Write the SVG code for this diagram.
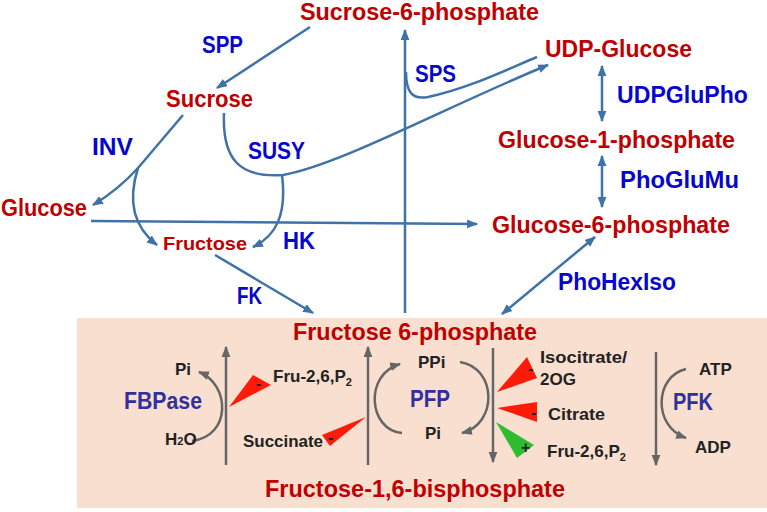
<svg xmlns="http://www.w3.org/2000/svg" width="767" height="512" viewBox="0 0 767 512">
<defs>
<style>
.r{font-family:"Liberation Sans",Arial,sans-serif;font-weight:bold;font-size:23.5px;fill:#c00000}
.b{font-family:"Liberation Sans",Arial,sans-serif;font-weight:bold;font-size:23.5px;fill:#0606cc}
.e{font-family:"Liberation Sans",Arial,sans-serif;font-weight:bold;font-size:23.5px;fill:#30309e}
.k{font-family:"Liberation Sans",Arial,sans-serif;font-weight:bold;font-size:17px;fill:#222}
.s{font-family:"Liberation Sans",Arial,sans-serif;font-weight:bold;font-size:16px;fill:#222}
.c{fill:none;stroke:#3f72a6;stroke-width:2.5}
.g{fill:none;stroke:#666;stroke-width:2.5}
.inh{fill:#ff1a0a}
.act{fill:#2ebd2e}
</style>
<marker id="ab" viewBox="0 0 10 10" refX="9" refY="5" markerWidth="11" markerHeight="11" markerUnits="userSpaceOnUse" orient="auto-start-reverse"><path d="M0,1 L10,5 L0,9 z" fill="#3f72a6"/></marker>
<marker id="ag" viewBox="0 0 10 10" refX="9" refY="5" markerWidth="11" markerHeight="11" markerUnits="userSpaceOnUse" orient="auto-start-reverse"><path d="M0,1 L10,5 L0,9 z" fill="#666"/></marker>
</defs>
<rect x="0" y="0" width="767" height="512" fill="#fff"/>
<rect id="box" x="77" y="318" width="690" height="190" fill="#f9dfcf"/>

<g id="connectors">
<path class="c" d="M310,27 L217,88" marker-end="url(#ab)"/>
<path class="c" d="M183,115 L138,168 Q118,190 93,205" marker-end="url(#ab)"/>
<path class="c" d="M138,168 Q122,218 157,245" marker-end="url(#ab)"/>
<path class="c" d="M224,113 C222,160 240,178 283,175 C340,165 450,105 548,65" marker-end="url(#ab)"/>
<path class="c" d="M282,175 C287,215 276,236 253,247" marker-end="url(#ab)"/>
<path class="c" d="M91,221 L477,224" marker-end="url(#ab)"/>
<path class="c" d="M405,313 L405,30" marker-end="url(#ab)"/>
<path class="c" d="M406,72 C406,92 412,100 428,97 C470,88 510,68 537,57"/>
<path class="c" d="M602,66 L602,121" marker-start="url(#ab)" marker-end="url(#ab)"/>
<path class="c" d="M602,156 L602,207" marker-start="url(#ab)" marker-end="url(#ab)"/>
<path class="c" d="M595,237 L502,314" marker-start="url(#ab)" marker-end="url(#ab)"/>
<path class="c" d="M215,255 L313,313" marker-end="url(#ab)"/>
<path class="g" d="M226,465 L226,347" marker-end="url(#ag)"/>
<path class="g" d="M192,441 C232,436 230,384 199,372" marker-end="url(#ag)"/>
<path class="g" d="M368,465 L368,347" marker-end="url(#ag)"/>
<path class="g" d="M402,433 C368,430 364,374 400,364" marker-end="url(#ag)"/>
<path class="g" d="M460,362 C497,368 498,424 462,433" marker-end="url(#ag)"/>
<path class="g" d="M493,348 L493,462" marker-end="url(#ag)"/>
<path class="g" d="M656,352 L656,465" marker-end="url(#ag)"/>
<path class="g" d="M686,369 C655,376 652,426 686,438" marker-end="url(#ag)"/>
</g>

<g id="regulators">
<polygon class="inh" points="229,407 253,375 271,385"/>
<text class="s" x="256" y="389">-</text>
<polygon class="inh" points="366,417 322,435 330,446"/>
<text class="s" x="328" y="443">-</text>
<polygon class="inh" points="497,392 527,357 537,378"/>
<text class="s" x="528" y="374">-</text>
<polygon class="inh" points="497,408 537,402 537,422"/>
<text class="s" x="531" y="418">-</text>
<polygon class="act" points="496,422 517,458 534,445"/>
<text class="s" x="521" y="453">+</text>
</g>

<g id="n-s6p"><text class="r" x="300" y="20" textLength="239" lengthAdjust="spacingAndGlyphs">Sucrose-6-phosphate</text></g>
<g id="n-sucrose"><text class="r" x="166" y="107" textLength="87" lengthAdjust="spacingAndGlyphs">Sucrose</text></g>
<g id="n-glucose"><text class="r" x="1" y="216" textLength="86" lengthAdjust="spacingAndGlyphs">Glucose</text></g>
<g id="n-udpg"><text class="r" x="545" y="57" textLength="147" lengthAdjust="spacingAndGlyphs">UDP-Glucose</text></g>
<g id="n-g1p"><text class="r" x="498" y="148" textLength="237" lengthAdjust="spacingAndGlyphs">Glucose-1-phosphate</text></g>
<g id="n-g6p"><text class="r" x="492" y="233" textLength="238" lengthAdjust="spacingAndGlyphs">Glucose-6-phosphate</text></g>
<g id="n-fructose"><text class="r" x="163" y="250" style="font-size:18.5px" textLength="84" lengthAdjust="spacingAndGlyphs">Fructose</text></g>
<g id="n-f6p"><text class="r" x="293" y="340" textLength="244" lengthAdjust="spacingAndGlyphs">Fructose 6-phosphate</text></g>
<g id="n-f16bp"><text class="r" x="265" y="497" textLength="300" lengthAdjust="spacingAndGlyphs">Fructose-1,6-bisphosphate</text></g>

<g id="enzymes">
<text class="b" x="202" y="53" textLength="41" lengthAdjust="spacingAndGlyphs">SPP</text>
<text class="b" x="92" y="155" textLength="41" lengthAdjust="spacingAndGlyphs">INV</text>
<text class="b" x="248" y="159" textLength="57" lengthAdjust="spacingAndGlyphs">SUSY</text>
<text class="b" x="415" y="82" textLength="41" lengthAdjust="spacingAndGlyphs">SPS</text>
<text class="b" x="617" y="103" textLength="131" lengthAdjust="spacingAndGlyphs">UDPGluPho</text>
<text class="b" x="620" y="188" textLength="119" lengthAdjust="spacingAndGlyphs">PhoGluMu</text>
<text class="b" x="283" y="249" textLength="32" lengthAdjust="spacingAndGlyphs">HK</text>
<text class="b" x="237" y="304" textLength="25" lengthAdjust="spacingAndGlyphs">FK</text>
<text class="b" x="558" y="290" textLength="118" lengthAdjust="spacingAndGlyphs">PhoHexIso</text>
<text class="e" x="124" y="409" textLength="78" lengthAdjust="spacingAndGlyphs">FBPase</text>
<text class="e" x="410" y="407" textLength="40" lengthAdjust="spacingAndGlyphs">PFP</text>
<text class="e" x="673" y="410" textLength="40" lengthAdjust="spacingAndGlyphs">PFK</text>
</g>

<g id="cofactors">
<text class="k" x="175" y="375">Pi</text>
<text class="k" x="165" y="445">H<tspan style="font-size:11px">2</tspan>O</text>
<text class="k" x="273" y="382">Fru-2,6,P<tspan style="font-size:11px" dy="4">2</tspan></text>
<text class="k" x="243" y="447" textLength="80" lengthAdjust="spacingAndGlyphs">Succinate</text>
<text class="k" x="418" y="368">PPi</text>
<text class="k" x="425" y="439">Pi</text>
<text class="k" x="540" y="363" textLength="87" lengthAdjust="spacingAndGlyphs">Isocitrate/</text>
<text class="k" x="540" y="385">2OG</text>
<text class="k" x="548" y="420" textLength="57" lengthAdjust="spacingAndGlyphs">Citrate</text>
<text class="k" x="547" y="457">Fru-2,6,P<tspan style="font-size:11px" dy="4">2</tspan></text>
<text class="k" x="699" y="375">ATP</text>
<text class="k" x="695" y="453">ADP</text>
</g>
</svg>
